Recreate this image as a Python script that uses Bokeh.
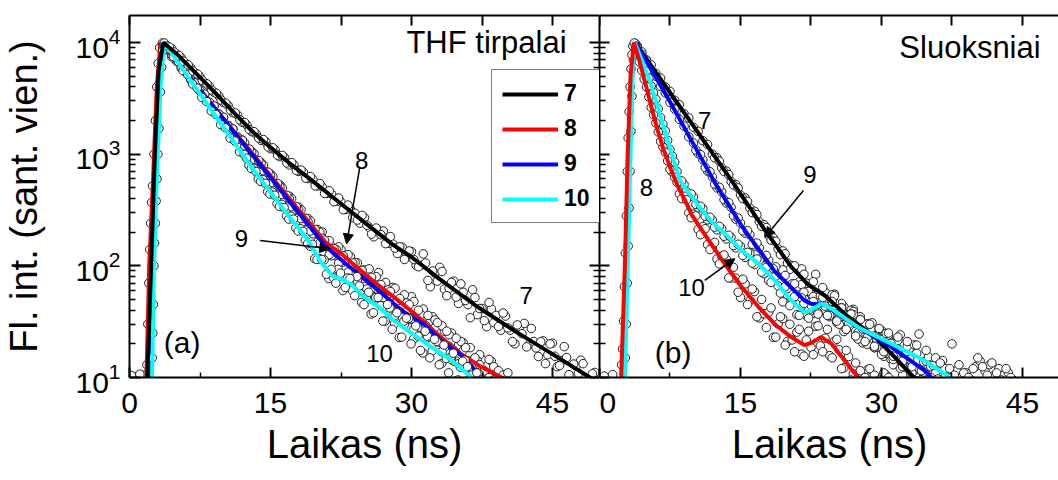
import numpy as np
from bokeh.plotting import figure
from bokeh.layouts import row
from bokeh.models import (FixedTicker, LinearAxis, LogAxis, Range1d, Label,
                          Arrow, NormalHead, Legend, LegendItem, CustomJSTickFormatter)
from bokeh.embed import file_html
from bokeh.resources import INLINE

FONT = "Liberation Sans"
DOT_STEP = 0.5  # ns between decay samples of one record

# ---------------- data: panel (a) THF solutions ----------------
L7_fit_t = [1.9, 2.3, 2.7, 3.1, 3.6, 5, 7, 9, 11, 13, 15, 17, 19.4, 22, 25, 28, 30, 33, 37, 41, 45, 49, 50]
L7_fit_v = [10, 100, 1000, 5600, 10000, 7940, 5370, 3630, 2400, 1620, 1150, 832, 582, 389, 245, 155, 120, 76, 43, 26, 16.2, 10, 9]
L8_fit_t = [1.8, 2.1, 2.5, 2.9, 3.3, 5, 7, 9, 11, 13, 15, 17, 19, 20.8, 21.5, 22.5, 23.6, 26, 28.2, 30.7, 33, 35.3, 37.1, 39.6, 41]
L8_fit_v = [10, 100, 580, 4000, 10000, 6710, 4200, 2620, 1640, 1030, 641, 401, 251, 164, 148, 129, 107, 72, 52, 35, 23.4, 16.2, 12.9, 10, 9]
L9_fit_t = [2.1, 2.4, 2.8, 3.1, 3.5, 5, 7, 9, 11, 13, 15, 17, 19, 20.8, 22, 23.6, 26.5, 28.9, 31.4, 33.2, 35.3, 37.5, 38.5]
L9_fit_v = [10, 100, 1000, 5000, 10000, 6920, 4270, 2630, 1620, 1000, 617, 380, 234, 151, 123, 95, 60, 40, 29.5, 21.4, 15.8, 10, 9]
L10_fit_t = [2.4, 2.6, 2.9, 3.3, 3.7, 5, 7, 9, 11, 13, 15, 17, 19, 20.3, 21.6, 22.9, 23.6, 25, 26.5, 28, 30, 32, 34, 36.4, 37.5]
L10_fit_v = [10, 100, 580, 4000, 10000, 6920, 3980, 2290, 1320, 759, 457, 275, 170, 110, 81, 74, 68, 52, 43, 33, 25, 19, 14.8, 10, 9]

L7_dot_t0 = 4.0
L7_dot_v = [9300, 8800, 7900, 7330, 6480, 5950, 5300, 4960, 4360, 4060,
            3580, 3330, 2900, 2720, 2350, 2240, 1930, 1820, 1590, 1510,
            1330, 1290, 1120, 1090, 950, 930, 800, 800, 700, 690,
            605, 595, 520, 510, 445, 440, 380, 372, 320, 322,
            296, 241, 270, 220, 182, 208, 205, 159, 157, 129,
            147, 124, 134, 101, 101, 106, 65, 86, 97, 62,
            63, 73, 46, 58, 45, 61, 36.5, 41.5, 28.5, 41,
            36, 26.5, 35.5, 26.5, 20, 28.5, 30.5, 19.7, 21, 15.4,
            21.3, 16, 20.3, 12.5, 14.2, 15.1, 9.4, 12.7, 14.3, 9.2,
            9.6, 11.1]
L7_dot2_t0 = 4.25
L7_dot2_v = [9100, 8200, 7650, 6800, 6300, 5550, 5200, 4580, 4260, 3740,
             3510, 3050, 2860, 2480, 2340, 2030, 1920, 1660, 1590, 1390,
             1350, 1160, 1140, 980, 975, 835, 840, 715, 720, 610,
             630, 520, 545, 445, 470, 375, 405, 318, 350, 270,
             257, 283, 231, 192, 218, 190, 158, 183, 144, 148,
             114, 136, 114, 98, 128, 74, 90, 73, 89, 54,
             71, 52.5, 69, 49, 34.3, 52, 41.4, 32.3, 47, 31,
             28.6, 37.8, 27.8, 21, 29.6, 24.7, 18.8, 27.5, 18.4, 20.9,
             13.3, 20, 15.5, 12.8, 18.9, 10.6, 13.2, 10.9, 13.3, 8.1,
             10.8]
L8_dot_t0 = 3.5
L8_dot_v = [9500, 8600, 7450, 6800, 5900, 5400, 4650, 4280, 3680, 3390,
            2900, 2680, 2290, 2130, 1810, 1680, 1430, 1340, 1120, 1060,
            890, 840, 700, 665, 550, 530, 430, 420, 340, 335,
            268, 265, 212,
            211, 201, 150, 149, 123, 140, 113, 121, 80, 87,
            92, 56, 76, 87, 55, 56, 64, 40, 51, 39,
            53, 31.5, 35, 24, 32, 28, 19.7, 26, 19, 14,
            19.4, 20.5, 13.3, 14.1, 10.3, 14.5, 10.9, 14, 8.7, 9.8,
            10.6, 6.7, 9]
L8_dot2_t0 = 12.25
L8_dot2_v = [1260, 1040, 1010, 820, 800, 650, 630, 510, 500, 400,
             400, 315, 318, 248, 252, 195, 200, 150, 168, 128,
             148, 108, 126, 90, 106, 74, 90, 63, 80, 55,
             71, 46, 63, 39, 55, 33, 48, 28, 41, 23.5,
             35, 19.5, 29, 16.5, 25, 14, 21, 12, 18.5, 10.5,
             16, 9.5, 14.5, 12.5, 11.5, 10.5, 11]
L9_dot_t0 = 3.5
L9_dot_v = [9900, 8900, 7750, 7000, 6100, 5550, 4750, 4350, 3720, 3440,
            2920, 2700, 2280, 2140, 1790, 1680, 1400, 1330, 1090, 1040,
            850, 825, 665, 645, 520, 510, 408, 400, 318, 318,
            248, 248, 194,
            163, 177, 148, 123, 140, 110, 111, 73, 107, 80,
            65, 94, 53, 64, 52, 61, 36, 48.6, 34.7, 46.6,
            33.6, 24, 36.6, 29.3, 22.7, 32.8, 20.7, 18.5, 24.2, 17.5,
            13.3, 17.4, 14.2, 10.2, 14.2, 9.2, 10, 6.4, 9.6]
L9_dot2_t0 = 12.25
L9_dot2_v = [1150, 1110, 900, 875, 710, 690, 555, 545, 435, 428,
             338, 338, 265, 266, 205, 212, 160, 170, 126, 143,
             106, 123, 88, 106, 73, 91, 62, 79, 52, 68,
             43, 59, 36, 51, 30, 45, 27, 40, 23.5, 36,
             20, 31, 17, 26, 14.5, 22.5, 12.5, 18.5, 10, 15,
             13, 11.5, 10, 9.5]
L10_dot_t0 = 3.7
L10_dot_v = [9900, 8800, 7450, 6750, 5600, 5150, 4250, 3900, 3220, 2960,
             2430, 2260, 1840, 1720, 1390, 1310, 1050, 995, 795, 750,
             600, 590, 462, 458, 360, 355, 280, 278, 218, 215,
             170, 150,
             116, 116, 113, 77, 78, 93, 60, 78, 60, 80,
             47, 53, 37, 52, 44, 32, 42, 30.4, 22.8, 32,
             33.8, 22, 23.5, 16.6, 23.4, 17.3, 21, 13.3, 14.8, 15.2,
             9.3, 12.4, 14.3, 9, 9.1, 10.7, 6.8, 8.8]
L10_dot2_t0 = 12.45
L10_dot2_v = [920, 745, 700, 570, 548, 440, 428, 340, 332, 262,
              262, 205, 204, 158, 156, 114, 114, 84, 93, 70,
              86, 64, 77, 54, 66, 45, 58, 38, 52, 32,
              45, 27, 38, 23, 34, 20, 29, 17.5, 26, 15,
              22, 13, 19.5, 11, 16.5, 9.5, 14, 12.5, 10.5, 11,
              9.5]

L8_rise_t = [0.6, 1.5, 1.85, 1.95, 2.05, 2.15, 2.25, 2.35, 2.45, 2.6, 2.75, 2.9, 3.05, 3.2]
L8_rise_v = [10.2, 10.5, 13, 30, 70, 140, 240, 370, 520, 1000, 2000, 4000, 6500, 9000]
L10_rise_t = [0.2, 1.1, 2.42, 2.48, 2.54, 2.6, 2.67, 2.75, 2.83, 2.92, 3.02, 3.14, 3.28, 3.42, 3.56]
L10_rise_v = [10.4, 10.7, 15, 25, 45, 100, 160, 240, 380, 600, 1000, 1700, 3600, 6000, 8500]

# ---------------- data: panel (b) layers ----------------
R7_fit_t = [2.6, 2.9, 3.2, 3.5, 3.76, 9.6, 14, 17.6, 20.4, 22.2, 24.0, 26.1, 29.3, 31.1, 33.2, 33.5, 34.5]
R7_fit_v = [10, 100, 1000, 6000, 10000, 2000, 589, 209, 98, 68, 54, 37, 23, 16.2, 10.5, 10, 9]
R8_fit_t = [2.3, 2.7, 3.0, 3.3, 3.65, 4.2, 4.8, 5.5, 6.2, 6.9, 7.66, 8.4, 9.1, 9.8, 11.6, 13.3, 15.1, 16.9, 18.65, 20.4, 21.8, 22.5, 23.6, 24.7, 26.1, 27.5, 28.5]
R8_fit_v = [10, 100, 1000, 5000, 10000, 7080, 4570, 2690, 1620, 1050, 708, 501, 385, 288, 170, 105, 65, 43, 30, 23, 19.5, 20.4, 23, 20, 14.1, 10, 9]
R9_fit_t = [2.6, 2.9, 3.2, 3.5, 3.8, 5, 7.3, 10.85, 12.1, 14, 15.1, 18.65, 21.8, 22.5, 23.2, 24, 25, 27.5, 31.1, 34.6, 35.3, 36]
R9_fit_v = [10, 100, 1000, 6000, 10000, 6760, 3160, 912, 589, 324, 229, 89, 49, 45.7, 45.2, 44.2, 38.9, 28.2, 18.6, 11.5, 10, 9]
R10_fit_t = [2.7, 3.0, 3.3, 3.55, 3.75, 4.5, 5.35, 6.95, 8.55, 9.8, 10.5, 11.9, 13.3, 15.1, 16.9, 18.65, 20.4, 21.8, 22.6, 23.6, 24.7, 27.5, 31.1, 34.6, 36.4, 37.4, 38.5]
R10_fit_v = [10, 100, 1000, 6000, 10000, 6920, 4570, 1620, 581, 417, 347, 251, 195, 138, 105, 74, 49, 38.5, 40.7, 45.7, 41.2, 28.2, 20, 14.1, 11.2, 10, 9]

R7_dot_t0 = 4.0
R7_dot_v = [9300, 8250, 7000, 6300, 5300, 4800, 4000, 3650, 3040, 2770,
            2300, 2110, 1740, 1600, 1320, 1220, 1000, 930, 755, 705,
            570, 535, 432, 405, 328, 308, 248, 234, 188, 178,
            142, 136, 106, 100,
            64.5, 94, 70, 56, 84, 46.6, 58, 46, 55.8, 33,
            43, 31, 40.8, 29, 20.4, 30.3, 24.2, 18.6, 26.2, 16.4,
            14.6, 18.6, 13.1, 9.6, 12.8, 10.3, 7.6, 11]
R7_dot2_t0 = 12.25
R7_dot2_v = [930, 865, 700, 655, 530, 498, 400, 378, 300, 288,
             226, 220, 170, 166, 126, 128, 93, 100,
             72, 84, 59, 72, 52, 64, 44, 55, 37, 46,
             30.5, 40, 26, 35, 22, 30, 18.5, 26, 15.5, 22,
             13, 18, 10.5, 14.5, 12.5, 11, 9.5]
R8_dot_t0 = 4.0
R8_dot_v = [8000, 5600, 4000, 2620, 1900, 1300, 1040, 730, 620, 440,
            420, 300, 290, 212, 225, 155,
            147, 115, 122, 114, 78, 77.5, 52, 69, 48.8, 58.8,
            34.2, 37.2, 38.4, 22.9, 30.2, 33.7, 21.1, 21.7, 25.5, 16.2,
            21.7, 18.6, 28.7, 19.2, 22.5, 15.7, 21.2, 17.7, 12.2, 15.4,
            10.8, 7.6, 10.8, 11.7, 8.1, 9.2, 7.1, 10.5, 8.4]
R8_dot2_t0 = 8.25
R8_dot2_v = [560, 400, 390, 270, 280, 190, 215, 140, 162, 104,
             125, 78, 97, 58, 76, 45, 62, 35, 50, 28,
             42, 23, 35, 19.5, 30, 17, 27, 15.5, 26, 16,
             29, 17, 27, 15, 22, 12, 17.5, 9.5, 13.5, 11.5,
             10, 12, 10.5, 9.5, 11, 10]
R9_dot_t0 = 4.0
R9_dot_v = [9400, 7850, 6850, 5650, 4980, 4050, 3530, 2900, 2530, 2050,
            1780, 1430, 1260, 1010, 890, 705, 625, 500, 460, 365,
            335, 262, 242, 196, 190, 150, 145, 112, 112, 86,
            81, 92, 55, 69, 52, 68, 41, 47.5, 34.7, 51.4,
            47.5, 35, 47.2, 34.2, 25.8, 36.5, 39, 25.2, 27.1, 19.8,
            27.7, 20.8, 26.3, 16.4, 18.4, 19.7, 12.1, 16.2, 18.3, 11.6,
            11.9, 13.8, 8.5, 10.8, 8.5, 11.7, 7.1, 8.3]
R9_dot2_t0 = 10.25
R9_dot2_v = [1090, 990, 760, 695, 538, 505, 392, 368, 282, 268,
             206, 206, 156, 160, 118, 124, 89, 98, 71, 82,
             57, 69, 46, 58, 40, 53, 38, 52, 36, 48,
             31, 42, 27, 37, 23.5, 33, 21, 30, 18.5, 27,
             16.5, 24, 14.5, 21.5, 12.5, 19, 11, 16.5, 9.5, 14,
             12.5, 11, 9.5, 12, 10]
R10_dot_t0 = 4.0
R10_dot_v = [8900, 6800, 5550, 4080, 3100, 2130, 1620, 1100, 850, 580,
             535, 430, 415, 330, 325, 258, 258, 210, 216, 174,
             180, 145, 150, 119, 130, 103, 112, 85,
             74, 94, 66, 47.6, 62.6, 49.4, 36.5, 51.6, 35.9, 44.4,
             32, 54, 43.6, 36.1, 54, 30, 36.4, 30.1, 36.6, 22.1,
             30.5, 22.9, 30.9, 22.1, 16.1, 24.8, 20.2, 16.2, 24.1, 15.7,
             14.6, 19.6, 24.5, 11.2, 15.3, 12.8, 9.7, 14.2, 9.7, 20,
             11.5, 10, 11, 9.5, 12.5, 14, 11.5, 13, 10.5, 12,
             10.5, 11, 9.5]
R10_dot2_t0 = 8.75
R10_dot2_v = [575, 462, 440, 355, 342, 278, 272, 222, 226, 184,
              188, 152, 156, 124, 132, 106, 115, 88, 97, 71,
              81, 57, 65, 44, 53, 36, 46, 34, 48, 37,
              52, 36, 48, 32, 42, 27, 37, 23.5, 33, 21,
              30, 19, 27.5, 17, 25, 15.5, 23, 14, 21, 12.5,
              19.5, 11.5, 17.5, 10, 15, 13.5, 10, 12, 10.5, 13,
              11, 10, 12, 15, 12.5, 10.5, 13.5, 11, 9.5, 12,
              10]

R8_rise_t = [0.5, 1.4, 2.35, 2.45, 2.55, 2.65, 2.75, 2.85, 2.95, 3.05, 3.15, 3.25, 3.35, 3.45, 3.55, 3.7, 3.85,
             4.25, 4.75, 5.25, 5.75, 6.25, 6.75, 7.25, 7.75]
R8_rise_v = [10.3, 10.6, 13, 18, 32, 65, 130, 280, 700, 1400, 2400, 4000, 5800, 7800, 9300, 9900, 9100,
             6700, 4700, 3250, 2250, 1580, 1160, 870, 690]
R10_rise_t = [2.75, 2.85, 2.95, 3.05, 3.15, 3.25, 3.35, 3.45, 3.6, 3.8, 3.9,
              4.25, 4.75, 5.25, 5.75, 6.25, 6.75, 7.25, 7.75, 8.25]
R10_rise_v = [15, 30, 70, 150, 330, 700, 1600, 3300, 7000, 9800, 9300,
              7800, 6200, 4800, 3550, 2550, 1850, 1330, 960, 700]

# axis ticks
Y_MAJOR = [10, 100, 1000, 10000]
Y_MINOR = [m * 10 ** k for k in (1, 2, 3, 4) for m in range(2, 10)]
X_MAJOR = [0, 15, 30, 45]
X_MINOR = [7.5, 22.5, 37.5]
X_TOP = [0, 7.5, 15, 22.5, 30, 37.5, 45]

COLORS = {"7": "black", "8": "#ff0000", "9": "#0000ff", "10": "#00ffff"}


def dot_times(t0, vals):
    return t0 + DOT_STEP * np.arange(len(vals))


def style_axis(ax):
    ax.axis_line_width = 2
    ax.major_tick_line_width = 2
    ax.minor_tick_line_width = 1.5
    ax.axis_line_color = "black"
    ax.major_tick_line_color = "black"
    ax.minor_tick_line_color = "black"
    ax.major_label_text_font = FONT
    ax.major_label_text_color = "black"
    ax.axis_label_text_font = FONT
    ax.axis_label_text_font_style = "normal"
    ax.axis_label_text_color = "black"


def silent_axis(ax):
    style_axis(ax)
    ax.formatter = CustomJSTickFormatter(code="return ''")
    ax.major_label_text_font_size = "1px"
    ax.major_label_standoff = 0
    ax.major_tick_out = 0
    ax.minor_tick_out = 0


def make_panel(xmax, frame_w, left_border, show_ylabels):
    p = figure(frame_width=frame_w, frame_height=362,
               x_range=Range1d(0, xmax), y_range=Range1d(10, 17450),
               y_axis_type="log", output_backend="svg", toolbar_location=None,
               min_border_left=left_border, min_border_right=0,
               min_border_top=15, min_border_bottom=103,
               outline_line_color=None, background_fill_color="white",
               border_fill_color="white")
    p.grid.visible = False

    xa = p.xaxis[0]
    style_axis(xa)
    xa.ticker = FixedTicker(ticks=X_MAJOR, minor_ticks=X_MINOR)
    xa.major_tick_in = 10
    xa.major_tick_out = 0
    xa.minor_tick_in = 5
    xa.minor_tick_out = 0
    xa.major_label_text_font_size = "30px"
    xa.major_label_standoff = 15
    xa.axis_label = "Laikas (ns)"
    xa.axis_label_text_font_size = "40px"
    xa.axis_label_standoff = 6

    ya = p.yaxis[0]
    ya.ticker = FixedTicker(ticks=Y_MAJOR, minor_ticks=Y_MINOR)
    if show_ylabels:
        style_axis(ya)
        ya.major_tick_in = 11
        ya.major_tick_out = 0
        ya.minor_tick_in = 6
        ya.minor_tick_out = 0
        ya.major_label_text_font_size = "30px"
        ya.major_label_standoff = 9
        ya.axis_label = "Fl. int. (sant. vien.)"
        ya.axis_label_text_font_size = "38px"
        ya.axis_label_standoff = 27
    else:
        silent_axis(ya)
        ya.major_tick_in = 10
        ya.minor_tick_in = 6

    top = LinearAxis(ticker=FixedTicker(ticks=X_TOP))
    silent_axis(top)
    top.major_tick_in = 10
    top.minor_tick_in = 0
    p.add_layout(top, "above")
    return p


def add_dots(p, *records):
    xs, ys = [], []
    for t, v in records:
        xs += list(t)
        ys += list(v)
    return p.scatter(xs, ys, size=8.5, marker="circle", fill_color="white",
                     line_color="#1e1e1e", line_width=1)


def add_fit(p, t, v, key):
    return p.line(t, v, line_color=COLORS[key], line_width=4)


def label(p, x, y, text, size="24px", align="center", baseline="middle"):
    p.add_layout(Label(x=x, y=y, text=text, text_font=FONT, text_font_size=size,
                       text_align=align, text_baseline=baseline, text_color="black"))


def arrow(p, x0, y0, x1, y1):
    p.add_layout(Arrow(x_start=x0, y_start=y0, x_end=x1, y_end=y1, line_width=1.5,
                       line_color="black",
                       end=NormalHead(size=10, fill_color="black", line_color="black", line_width=1)))


# ---------------- panel (a) ----------------
pa = make_panel(50, 470, 128, True)
right = LogAxis(ticker=FixedTicker(ticks=Y_MAJOR, minor_ticks=Y_MINOR))
silent_axis(right)
right.major_tick_in = 10
right.minor_tick_in = 6
pa.add_layout(right, "right")

add_dots(pa, (L8_rise_t, L8_rise_v), (dot_times(L8_dot_t0, L8_dot_v), L8_dot_v),
         (dot_times(L8_dot2_t0, L8_dot2_v), L8_dot2_v))
add_dots(pa, (dot_times(L9_dot_t0, L9_dot_v), L9_dot_v),
         (dot_times(L9_dot2_t0, L9_dot2_v), L9_dot2_v))
la8 = add_fit(pa, L8_fit_t, L8_fit_v, "8")
la9 = add_fit(pa, L9_fit_t, L9_fit_v, "9")
add_dots(pa, (L10_rise_t, L10_rise_v), (dot_times(L10_dot_t0, L10_dot_v), L10_dot_v),
         (dot_times(L10_dot2_t0, L10_dot2_v), L10_dot2_v))
add_dots(pa, (dot_times(L7_dot_t0, L7_dot_v), L7_dot_v),
         (dot_times(L7_dot2_t0, L7_dot2_v), L7_dot2_v))
la10 = add_fit(pa, L10_fit_t, L10_fit_v, "10")
la7 = add_fit(pa, L7_fit_t, L7_fit_v, "7")

label(pa, 46.5, 9970, "THF tirpalai", size="31px", align="right")
label(pa, 5.6, 20.5, "(a)", size="30px")
label(pa, 24.7, 877, "8")
label(pa, 11.9, 175, "9")
label(pa, 26.6, 16.4, "10")
label(pa, 42.2, 54, "7")
arrow(pa, 24.5, 764, 23.1, 157)
arrow(pa, 13.9, 169, 21.3, 142)

legend = Legend(items=[LegendItem(label="7", renderers=[la7]),
                       LegendItem(label="8", renderers=[la8]),
                       LegendItem(label="9", renderers=[la9]),
                       LegendItem(label="10", renderers=[la10])],
                location=(362, 154), orientation="vertical",
                glyph_width=56, glyph_height=26, label_height=26, label_standoff=6,
                spacing=8, padding=10, margin=0,
                label_text_font=FONT, label_text_font_style="bold",
                label_text_font_size="23px", label_text_color="black",
                border_line_color="black", border_line_width=1,
                background_fill_color="white", background_fill_alpha=1)
pa.add_layout(legend)

# ---------------- panel (b) ----------------
pb = make_panel(48.94, 460, 0, False)
add_dots(pb, (dot_times(R7_dot_t0, R7_dot_v), R7_dot_v),
         (dot_times(R7_dot2_t0, R7_dot2_v), R7_dot2_v))
add_dots(pb, (dot_times(R9_dot_t0, R9_dot_v), R9_dot_v),
         (dot_times(R9_dot2_t0, R9_dot2_v), R9_dot2_v))
add_dots(pb, (R10_rise_t, R10_rise_v), (dot_times(R10_dot_t0, R10_dot_v), R10_dot_v),
         (dot_times(R10_dot2_t0, R10_dot2_v), R10_dot2_v))
add_dots(pb, (R8_rise_t, R8_rise_v), (dot_times(R8_dot_t0, R8_dot_v), R8_dot_v),
         (dot_times(R8_dot2_t0, R8_dot2_v), R8_dot2_v))
add_fit(pb, R7_fit_t, R7_fit_v, "7")
add_fit(pb, R9_fit_t, R9_fit_v, "9")
add_fit(pb, R10_fit_t, R10_fit_v, "10")
add_fit(pb, R8_fit_t, R8_fit_v, "8")

label(pb, 31.9, 9100, "Sluoksniai", size="31px", align="left")
label(pb, 7.84, 16.9, "(b)", size="30px")
label(pb, 11.2, 2000, "7")
label(pb, 5.0, 500, "8")
label(pb, 22.4, 660, "9")
label(pb, 9.8, 64.5, "10")
arrow(pb, 21.7, 472, 17.6, 180)
arrow(pb, 11.2, 74, 14.4, 116)

layout = row(pa, pb, spacing=0)
open("out.html", "w").write(file_html(layout, INLINE))
